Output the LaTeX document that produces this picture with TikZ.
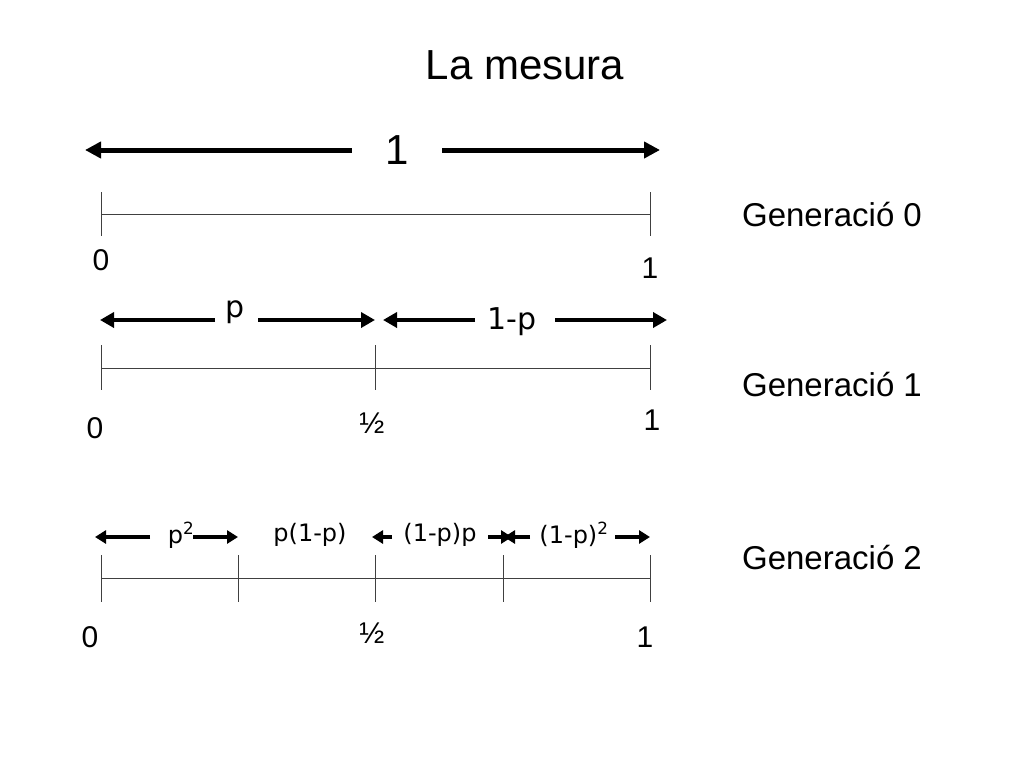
\documentclass[tikz,border=0pt]{standalone}
\usepackage{fontspec}
\setmainfont{Liberation Sans}
\newfontfamily\dv{DejaVu Sans}
\usetikzlibrary{arrows.meta}
\begin{document}
\begin{tikzpicture}[x=1pt,y=-1pt,
  big/.style={line width=5pt,-{Triangle[length=16pt,width=16pt]}},
  mid/.style={line width=4.5pt,-{Triangle[length=14pt,width=15pt]}},
  sm/.style={line width=4pt,-{Triangle[length=11pt,width=13pt]}},
  axis/.style={line width=0.8pt,draw=black!75},
  lab/.style={font=\fontsize{30}{30}\selectfont},
  gen/.style={font=\fontsize{33}{33}\selectfont},
  plab/.style={font=\dv\fontsize{30}{30}\selectfont},
  plab2/.style={font=\dv\fontsize{24}{24}\selectfont}]
\useasboundingbox (0,0) rectangle (1024,768);
\node[font=\fontsize{42}{42}\selectfont] (title) at (525,65) {La mesura};
% gen 0
\node[font=\fontsize{42}{42}\selectfont] (one) at (397,150) {1};
\coordinate (a0l) at (85,150); \coordinate (a0r) at (660,150);
\draw[big] (one.west)++(-30,0) coordinate (s1) (s1) -- (a0l);
\draw[big] (one.east)++(30,0) coordinate (s2) (s2) -- (a0r);
\coordinate (g0a) at (101,214); \coordinate (g0b) at (650,214);
\draw[axis] (g0a) -- (g0b);
\foreach \x in {101,650} \draw[axis] (\x,192) -- (\x,236);
\node[lab] (z0) at (101,260) {0};
\node[lab] (o0) at (650,268) {1};
\node[gen] (G0) at (832,215) {Generació 0};
% gen 1
\node[plab] (p) at (235,312) {p};
\node[plab] (q) at (512,322) {1-p};
\coordinate (p1) at (100,320); \coordinate (p2) at (375,320);
\coordinate (q1) at (383,320); \coordinate (q2) at (667,320);
\draw[mid] (215,320) -- (p1);
\draw[mid] (258,320) -- (p2);
\draw[mid] (475,320) -- (q1);
\draw[mid] (555,320) -- (q2);
\draw[axis] (101,368) -- (650,368);
\foreach \x in {101,375,650} \draw[axis] (\x,345) -- (\x,390);
\node[lab] (z1) at (95,428) {0};
\node[lab] (h1) at (372,423) {½};
\node[lab] (o1) at (652,420) {1};
\node[gen] (G1) at (832,385) {Generació 1};
% gen 2
\node[plab2] (a) at (181,535) {p\textsuperscript{2}};
\node[plab2] (b) at (310,535) {p(1-p)};
\node[plab2] (c) at (440,535) {(1-p)p};
\node[plab2] (d) at (574,535) {(1-p)\textsuperscript{2}};
\draw[sm] (150,537) -- (95,537);
\draw[sm] (193,537) -- (238,537);
\draw[sm] (392,537) -- (372,537);
\draw[sm] (488,537) -- (512,537);
\draw[sm] (530,537) -- (504,537);
\draw[sm] (615,537) -- (650,537);
\draw[axis] (101,578) -- (650,578);
\foreach \x in {101,238,375,503,650} \draw[axis] (\x,555) -- (\x,602);
\node[lab] (z2) at (90,637) {0};
\node[lab] (h2) at (372,633) {½};
\node[lab] (o2) at (645,637) {1};
\node[gen] (G2) at (832,558) {Generació 2};
\end{tikzpicture}
\end{document}
